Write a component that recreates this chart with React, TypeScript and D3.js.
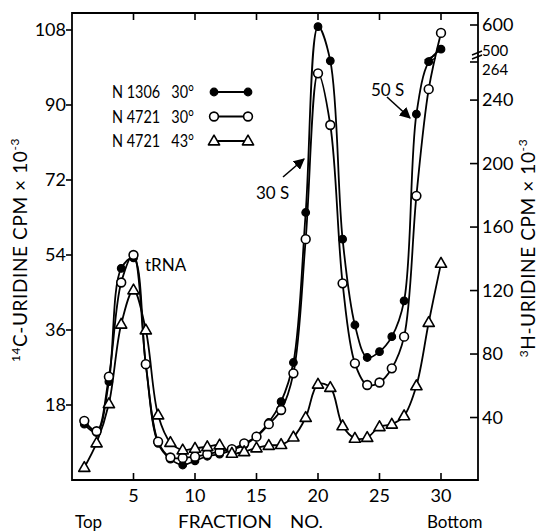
import React from "react";
import * as d3 from "d3";

const fractions = [1,2,3,4,5,6,7,8,9,10,11,12,13,14,15,16,17,18,19,20,21,22,23,24,25,26,27,28,29,30];
const n1306_30 = [13.4,11.4,23.6,50.8,53.3,27.6,8.8,5.0,3.6,4.6,5.7,6.2,7.2,8.4,10.5,13.8,18.8,28.2,64.2,108.8,100.6,57.8,37.2,29.4,30.8,34.4,43.0,87.8,100.4,103.4];
const n4721_30 = [14.2,11.7,24.8,47.4,54.0,27.8,9.2,5.4,5.3,5.6,6.2,6.8,7.4,8.8,10.4,13.4,16.8,25.6,57.8,97.6,85.2,47.2,28.0,22.8,23.4,26.8,34.4,68.2,93.8,107.3];
const n4721_43 = [3.0,8.9,18.3,37.4,45.6,36.0,15.6,9.0,7.2,7.6,8.0,8.4,6.4,6.8,7.7,8.3,8.5,10.3,15.0,23.0,22.2,13.0,10.0,10.2,12.8,13.4,15.4,22.6,37.8,52.0];

const xTicks = [5,10,15,20,25,30];
const leftTicks = [18,36,54,72,90,108];
const rightTicks = [40,80,120,160,200,240];
const rightBreakLow = 264;
const rightUpperTicks = [500, 600];
const legendLabels = ["N 1306\u00A0\u00A0\u00A030°", "N 4721\u00A0\u00A0\u00A030°", "N 4721\u00A0\u00A0\u00A043°"];

const FONT = "Lato, 'Open Sans', sans-serif";

export default function App() {
  const W = 541, H = 531;
  const L = 72, R = 478, T = 13, B = 480;
  const x = d3.scaleLinear().domain([0, 33]).range([L, L + 33 * 12.3]);
  const y = d3.scaleLinear().domain([0, 108]).range([B, 30]);
  const yR = d3.scaleLinear().domain([0, 264]).range([481, 62]);
  const yRU = d3.scaleLinear().domain([500, 600]).range([53, 25]);

  const line = d3.line<[number, number]>()
    .x(d => x(d[0])).y(d => y(d[1]))
    .curve(d3.curveCatmullRom.alpha(0.5));

  const series = [
    { vals: n1306_30, kind: "filled" },
    { vals: n4721_30, kind: "open" },
    { vals: n4721_43, kind: "tri" },
  ];

  const marker = (kind: string, cx: number, cy: number, key: any) => {
    if (kind === "tri") {
      const s = 5.6;
      const p = `${cx},${cy - s * 1.05} ${cx - s},${cy + s * 0.7} ${cx + s},${cy + s * 0.7}`;
      return <polygon key={key} points={p} fill="white" stroke="black" strokeWidth={1.6} strokeLinejoin="round" />;
    }
    if (kind === "filled") {
      return <circle key={key} cx={cx} cy={cy} r={3.8} fill="black" stroke="black" strokeWidth={1.2} />;
    }
    return <circle key={key} cx={cx} cy={cy} r={4.4} fill="white" stroke="black" strokeWidth={1.6} />;
  };

  const fs = 18;
  return (
    <svg width={W} height={H} style={{ display: "block", position: "absolute", left: 0, top: 0, background: "white" }} fontFamily={FONT}>
      <rect x={0} y={0} width={W} height={H} fill="white" />
      {/* frame */}
      <path d={`M${L},${T} H${R} V${B} H${L} Z`} fill="none" stroke="black" strokeWidth={1.8} />
      {/* x ticks bottom & top */}
      {xTicks.map(t => (
        <g key={"xt" + t}>
          <line x1={x(t)} x2={x(t)} y1={B} y2={B - 7} stroke="black" strokeWidth={1.6} />
          <line x1={x(t)} x2={x(t)} y1={T} y2={T + 7} stroke="black" strokeWidth={1.6} />
          <text x={x(t)} y={B + 22} textAnchor="middle" fontSize={fs}>{t}</text>
        </g>
      ))}
      {/* left ticks */}
      {leftTicks.map(t => (
        <g key={"lt" + t}>
          <line x1={L - 6} x2={L} y1={y(t)} y2={y(t)} stroke="black" strokeWidth={1.6} />
          <text x={L - 6} y={y(t) + 6} textAnchor="end" fontSize={fs}>{t}</text>
        </g>
      ))}
      {/* right ticks */}
      {rightTicks.map(t => (
        <g key={"rt" + t}>
          <line x1={R - 8} x2={R} y1={yR(t)} y2={yR(t)} stroke="black" strokeWidth={1.6} />
          <text x={R + 4} y={yR(t) + 6} fontSize={fs}>{t}</text>
        </g>
      ))}
      <line x1={R - 8} x2={R} y1={yR(rightBreakLow)} y2={yR(rightBreakLow)} stroke="black" strokeWidth={1.6} />
      <text x={R + 4} y={75} fontSize={15}>{rightBreakLow}</text>
      <line x1={R - 8} x2={R} y1={yRU(rightUpperTicks[1])} y2={yRU(rightUpperTicks[1])} stroke="black" strokeWidth={1.6} />
      <text x={R + 4} y={yRU(rightUpperTicks[1]) + 6} fontSize={fs}>{rightUpperTicks[1]}</text>
      <text x={R + 4} y={56} fontSize={15}>{rightUpperTicks[0]}</text>
      {/* axis break on right axis */}
      <g stroke="black" strokeWidth={1.4} fill="none">
        <path d={`M${R - 6},${55} l10,-4`} />
        <path d={`M${R - 6},${59} l10,-4`} />
      </g>
      {/* curves */}
      {series.map((s, i) => (
        <path key={"c" + i} d={line(fractions.map((f, j) => [f, s.vals[j]] as [number, number])) || ""} fill="none" stroke="black" strokeWidth={1.8} />
      ))}
      {/* break marks on curves */}
      <g stroke="black" strokeWidth={1.5} fill="white">
        <path d={`M${x(29.15) - 6},${y(101.5) + 3} l11,-5 M${x(29.15) - 6},${y(101.5) + 6} l11,-5`} />
      </g>
      {/* markers */}
      {series.map((s, i) => (
        <g key={"m" + i}>
          {fractions.map((f, j) => marker(s.kind, x(f), y(s.vals[j]), j))}
        </g>
      ))}
      {/* legend */}
      {legendLabels.map((lab, i) => {
        const ly = 92 + i * 24.5;
        const kind = series[i].kind;
        return (
          <g key={"lg" + i}>
            <text x={112} y={ly + 6} fontSize={17} textLength={82} lengthAdjust="spacingAndGlyphs">{lab}</text>
            <line x1={214} x2={248} y1={ly} y2={ly} stroke="black" strokeWidth={1.8} />
            {marker(kind, 214, ly, "a")}
            {marker(kind, 248, ly, "b")}
          </g>
        );
      })}
      {/* annotations */}
      <text x={145} y={271} fontSize={17}>tRNA</text>
      <text x={256} y={199} fontSize={17}>30 S</text>
      <text x={371} y={96} fontSize={17}>50 S</text>
      <defs>
        <marker id="ah" viewBox="0 0 10 10" refX={9} refY={5} markerWidth={7} markerHeight={7} orient="auto">
          <path d="M0,0 L10,5 L0,10 Z" fill="black" />
        </marker>
      </defs>
      <line x1={283} y1={177} x2={304} y2={159} stroke="black" strokeWidth={1.6} markerEnd="url(#ah)" />
      <line x1={387} y1={97} x2={410} y2={118} stroke="black" strokeWidth={1.6} markerEnd="url(#ah)" />
      {/* axis titles */}
      <text transform={`translate(27,250) rotate(-90)`} textAnchor="middle" fontSize={19} letterSpacing={0.6}>
        <tspan fontSize={12} dy={-7}>14</tspan><tspan dy={7}>C-URIDINE  CPM × 10</tspan><tspan fontSize={12} dy={-8}>-3</tspan>
      </text>
      <text transform={`translate(535,248) rotate(-90)`} textAnchor="middle" fontSize={19} letterSpacing={0.6}>
        <tspan fontSize={12} dy={-7}>3</tspan><tspan dy={7}>H-URIDINE  CPM × 10</tspan><tspan fontSize={12} dy={-8}>-3</tspan>
      </text>
      <text x={75} y={528} fontSize={17}>Top</text>
      <text y={528} fontSize={17}>
        <tspan x={178} textLength={94} lengthAdjust="spacingAndGlyphs">FRACTION</tspan>
        <tspan x={290} textLength={33} lengthAdjust="spacingAndGlyphs">NO.</tspan>
      </text>
      <text x={427} y={528} fontSize={17}>Bottom</text>
    </svg>
  );
}
